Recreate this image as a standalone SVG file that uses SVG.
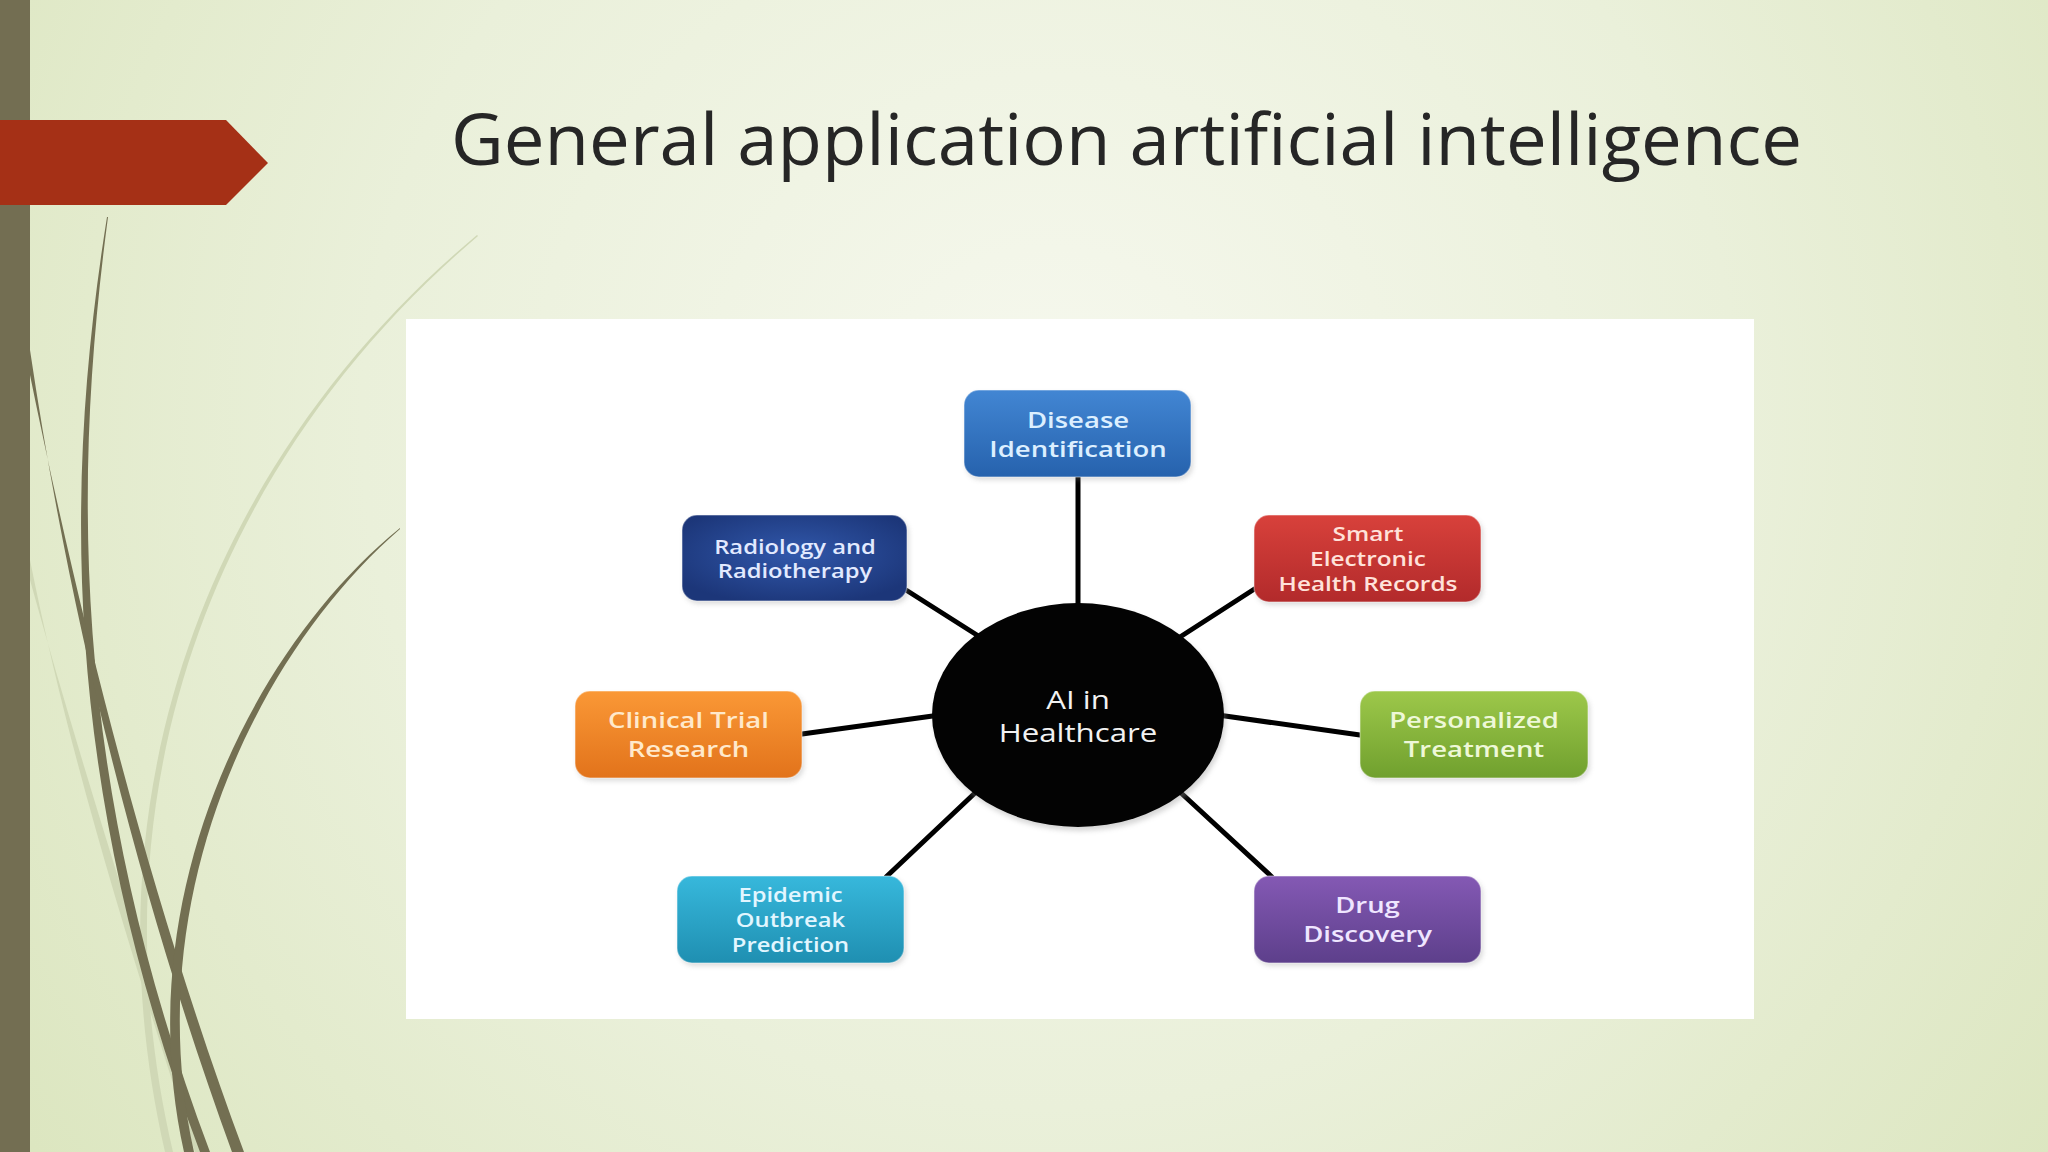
<svg xmlns="http://www.w3.org/2000/svg" width="2048" height="1152" viewBox="0 0 2048 1152">
<defs>
<radialGradient id="bg" cx="1050" cy="420" r="1250" gradientUnits="userSpaceOnUse">
<stop offset="0" stop-color="#f6f8ee"/>
<stop offset="0.55" stop-color="#eaf0da"/>
<stop offset="1" stop-color="#dce6c0"/>
</radialGradient>
<linearGradient id="gBlue" x1="0" y1="0" x2="0" y2="1"><stop offset="0" stop-color="#4286d3"/><stop offset="1" stop-color="#2662ad"/></linearGradient>
<radialGradient id="gNavy" cx="0.5" cy="0.45" r="0.6"><stop offset="0" stop-color="#3158ab"/><stop offset="1" stop-color="#1c3679"/></radialGradient>
<linearGradient id="gRed" x1="0" y1="0" x2="0" y2="1"><stop offset="0" stop-color="#d8413b"/><stop offset="1" stop-color="#b22a2b"/></linearGradient>
<linearGradient id="gOrange" x1="0" y1="0" x2="0" y2="1"><stop offset="0" stop-color="#fa9836"/><stop offset="1" stop-color="#e2731b"/></linearGradient>
<linearGradient id="gGreen" x1="0" y1="0" x2="0" y2="1"><stop offset="0" stop-color="#9dc84a"/><stop offset="1" stop-color="#70a02e"/></linearGradient>
<linearGradient id="gCyan" x1="0" y1="0" x2="0" y2="1"><stop offset="0" stop-color="#37b8dc"/><stop offset="1" stop-color="#1f8fb1"/></linearGradient>
<linearGradient id="gPurple" x1="0" y1="0" x2="0" y2="1"><stop offset="0" stop-color="#8459b4"/><stop offset="1" stop-color="#5d3f8b"/></linearGradient>
<filter id="sh" x="-10%" y="-10%" width="120%" height="130%"><feGaussianBlur stdDeviation="2.5"/></filter>
</defs>
<style>
.box{stroke:#ffffff;stroke-opacity:0.35;stroke-width:1.5}
.shadow{fill:#8a8a8a;opacity:0.3}
.lbl{font-family:"Open Sans","Liberation Sans",sans-serif;font-weight:600;text-anchor:middle}
.conn{stroke:#000;stroke-width:5;stroke-linecap:round;fill:none}
.dark{fill:#736f52}
.pale{fill:#d0d8b6}
</style>
<rect width="2048" height="1152" fill="url(#bg)"/>
<!-- decorative curves -->
<path class="pale" d="M477 235 C220 450 80 780 165 1152 L173 1152 C86 780 224 452 478 236 Z"/>
<path class="pale" d="M30 560 C70 760 130 950 195 1152 L206 1152 C140 950 80 760 30 580 Z"/>
<path class="dark" d="M107 217 C65 480 60 780 200 1152 L210 1152 C70 780 73 480 108 217 Z"/>
<path class="dark" d="M30 350 C70 620 140 900 232 1152 L244 1152 C150 900 80 620 30 375 Z"/>
<path class="dark" d="M400 528 C250 650 128 900 184 1152 L194 1152 C138 900 256 654 400 529 Z"/>
<rect x="0" y="0" width="30" height="1152" fill="#736e52"/>
<polygon points="0,120 226,120 268,163 226,205 0,205" fill="#a53016"/>
<text x="451" y="165" font-family="Open Sans, Liberation Sans, sans-serif" font-size="72" fill="#262626" textLength="1351" lengthAdjust="spacingAndGlyphs">General application artificial intelligence</text>
<rect x="406" y="319" width="1348" height="700" fill="#ffffff"/>
<g id="connectors">
<line class="conn" x1="1078" y1="477" x2="1078" y2="610"/>
<line class="conn" x1="906" y1="590" x2="980" y2="637"/>
<line class="conn" x1="1256" y1="588" x2="1180" y2="637"/>
<line class="conn" x1="802" y1="734" x2="940" y2="715"/>
<line class="conn" x1="1218" y1="715" x2="1360" y2="735"/>
<line class="conn" x1="886" y1="877" x2="976" y2="792"/>
<line class="conn" x1="1180" y1="792" x2="1272" y2="877"/>
</g>
<g id="center">
<ellipse cx="1080" cy="719" rx="146" ry="112" fill="#9a9a9a" opacity="0.4" filter="url(#sh)"/>
<ellipse cx="1078" cy="715" rx="146" ry="112" fill="#030303"/>
<text class="lbl" style="font-weight:400" transform="translate(1078 0) scale(1.25 1)" x="0" y="709" font-size="25" fill="#f2f2f2">AI in</text>
<text class="lbl" style="font-weight:400" transform="translate(1078 0) scale(1.25 1)" x="0" y="742" font-size="25" fill="#f2f2f2">Healthcare</text>
</g>
<g id="disease">
<rect class="shadow" x="966" y="393" width="227" height="87" rx="15" filter="url(#sh)"/>
<rect class="box" x="964" y="390" width="227" height="87" rx="15" fill="url(#gBlue)"/>
<text class="lbl" transform="translate(1078 0) scale(1.25 1)" x="0" y="428" font-size="22" fill="#dcefff">Disease</text>
<text class="lbl" transform="translate(1078 0) scale(1.25 1)" x="0" y="457" font-size="22" fill="#dcefff">Identification</text>
</g>
<g id="radiology">
<rect class="shadow" x="684" y="518" width="225" height="86" rx="15" filter="url(#sh)"/>
<rect class="box" x="682" y="515" width="225" height="86" rx="15" fill="url(#gNavy)"/>
<text class="lbl" transform="translate(795 0) scale(1.25 1)" x="0" y="554" font-size="19" fill="#e2eaff">Radiology and</text>
<text class="lbl" transform="translate(795 0) scale(1.25 1)" x="0" y="578" font-size="19" fill="#e2eaff">Radiotherapy</text>
</g>
<g id="smart-ehr">
<rect class="shadow" x="1256" y="518" width="227" height="87" rx="15" filter="url(#sh)"/>
<rect class="box" x="1254" y="515" width="227" height="87" rx="15" fill="url(#gRed)"/>
<text class="lbl" transform="translate(1368 0) scale(1.25 1)" x="0" y="541" font-size="19.5" fill="#ffe2da">Smart</text>
<text class="lbl" transform="translate(1368 0) scale(1.25 1)" x="0" y="566" font-size="19.5" fill="#ffe2da">Electronic</text>
<text class="lbl" transform="translate(1368 0) scale(1.25 1)" x="0" y="591" font-size="19.5" fill="#ffe2da">Health Records</text>
</g>
<g id="clinical">
<rect class="shadow" x="577" y="694" width="227" height="87" rx="15" filter="url(#sh)"/>
<rect class="box" x="575" y="691" width="227" height="87" rx="15" fill="url(#gOrange)"/>
<text class="lbl" transform="translate(688.5 0) scale(1.25 1)" x="0" y="728" font-size="22" fill="#ffe9cc">Clinical Trial</text>
<text class="lbl" transform="translate(688.5 0) scale(1.25 1)" x="0" y="757" font-size="22" fill="#ffe9cc">Research</text>
</g>
<g id="personalized">
<rect class="shadow" x="1362" y="694" width="228" height="87" rx="15" filter="url(#sh)"/>
<rect class="box" x="1360" y="691" width="228" height="87" rx="15" fill="url(#gGreen)"/>
<text class="lbl" transform="translate(1474 0) scale(1.25 1)" x="0" y="728" font-size="22" fill="#eef8d8">Personalized</text>
<text class="lbl" transform="translate(1474 0) scale(1.25 1)" x="0" y="757" font-size="22" fill="#eef8d8">Treatment</text>
</g>
<g id="epidemic">
<rect class="shadow" x="679" y="879" width="227" height="87" rx="15" filter="url(#sh)"/>
<rect class="box" x="677" y="876" width="227" height="87" rx="15" fill="url(#gCyan)"/>
<text class="lbl" transform="translate(790.5 0) scale(1.25 1)" x="0" y="902" font-size="19" fill="#e2f6ff">Epidemic</text>
<text class="lbl" transform="translate(790.5 0) scale(1.25 1)" x="0" y="927" font-size="19" fill="#e2f6ff">Outbreak</text>
<text class="lbl" transform="translate(790.5 0) scale(1.25 1)" x="0" y="952" font-size="19" fill="#e2f6ff">Prediction</text>
</g>
<g id="drug">
<rect class="shadow" x="1256" y="879" width="227" height="87" rx="15" filter="url(#sh)"/>
<rect class="box" x="1254" y="876" width="227" height="87" rx="15" fill="url(#gPurple)"/>
<text class="lbl" transform="translate(1367.5 0) scale(1.25 1)" x="0" y="913" font-size="22" fill="#efe6ff">Drug</text>
<text class="lbl" transform="translate(1367.5 0) scale(1.25 1)" x="0" y="942" font-size="22" fill="#efe6ff">Discovery</text>
</g>
</svg>
